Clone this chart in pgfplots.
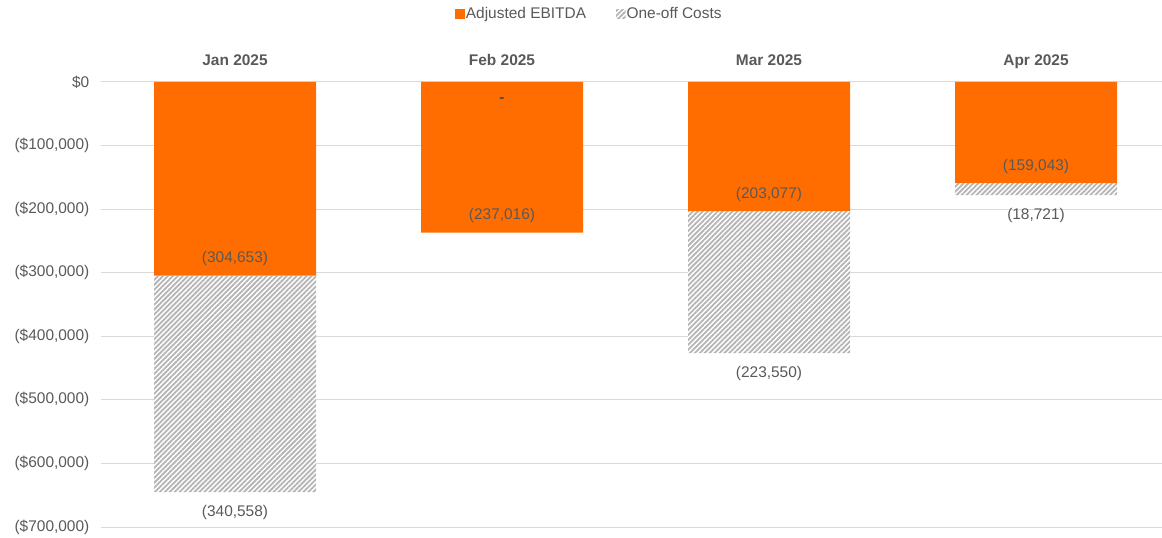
\documentclass[border=0pt]{standalone}
\usepackage{pgfplots}
\pgfplotsset{compat=1.18}
\usepackage{pgfplotstable}
\usepackage{fontspec}
\setmainfont{Liberation Sans}
\usetikzlibrary{patterns.meta}
\definecolor{ebitda}{HTML}{FF6D00}
\definecolor{txt}{HTML}{595959}
\definecolor{gridc}{HTML}{D9D9D9}
\definecolor{hatch}{HTML}{B4B4B4}
\pgfplotstableread{
x y lab
0 -304653 {(304,653)}
1 -237016 {(237,016)}
2 -203077 {(203,077)}
3 -159043 {(159,043)}
}\ebitdatab
\pgfplotstableread{
x y lab
0 -340558 {(340,558)}
1 0 {}
2 -223550 {(223,550)}
3 -18721 {(18,721)}
}\oneofftab
\begin{document}
\begin{tikzpicture}
\begin{axis}[
  scale only axis,
  width=1060bp, height=445bp,
  xmin=-0.5, xmax=3.47,
  ymin=-700000, ymax=0,
  ybar stacked,
  bar width=162bp,
  axis line style={draw=none},
  tick style={draw=none},
  major tick length=0pt,
  ymajorgrids,
  grid style={gridc, line width=1bp},
  scaled y ticks=false,
  ytick={-700000,-600000,-500000,-400000,-300000,-200000,-100000,0},
  yticklabels={{(\$700,000)},{(\$600,000)},{(\$500,000)},{(\$400,000)},{(\$300,000)},{(\$200,000)},{(\$100,000)},{\$0}},
  yticklabel style={font=\fontsize{15.5}{18}\selectfont, text=txt, inner sep=0pt, xshift=-12bp},
  xtick={0,1,2,3},
  xticklabels={Jan 2025,Feb 2025,Mar 2025,Apr 2025},
  xticklabel pos=upper,
  xticklabel style={font=\fontsize{15.5}{18}\selectfont\bfseries, text=txt, anchor=base, inner sep=0pt, yshift=16bp},
  legend columns=2,
  legend entries={Adjusted EBITDA,,One-off Costs},
  legend style={draw=none, fill=none, at={(0.4599,1.1528)}, anchor=center,
    font=\fontsize{15.5}{18}\selectfont, text=txt,
    /tikz/every even column/.append style={column sep=29bp},
    nodes={inner sep=1bp}},
  legend image code/.code={\draw[#1,draw=none] (0bp,-4.5bp) rectangle (9.5bp,5bp);},
  point meta=explicit symbolic,
  every node near coord/.style={font=\fontsize{15.5}{18}\selectfont, text=txt, inner sep=0pt},
  after end axis/.append code={
    \node[font=\fontsize{15.5}{18}\selectfont\bfseries, text=black!70, inner sep=0pt] at (axis cs:1,-28000) {-};
  },
]
% Adjusted EBITDA bars
\addplot[fill=ebitda, draw=none]
  table[x=x, y=y]{\ebitdatab};
% near-zero carrier for the EBITDA labels (sits at the end of the EBITDA segment)
\addplot[draw=none, fill=none, nodes near coords,
  every node near coord/.append style={anchor=base, yshift=13bp}]
  table[x=x, y expr=-1, meta=lab]{\ebitdatab};
% One-off costs bars
\addplot[fill=white, draw=none, postaction={pattern={Lines[angle=45,distance=3.5bp,line width=1.8bp]}, pattern color=hatch}]
  table[x=x, y=y]{\oneofftab};
% near-zero carrier for the one-off labels (sits at the end of the stack)
\addplot[draw=none, fill=none, nodes near coords,
  every node near coord/.append style={anchor=base, yshift=-24.5bp}]
  table[x=x, y expr=-1, meta=lab]{\oneofftab};
\end{axis}
\pgfresetboundingbox
\path[use as bounding box] (-101.5bp,-11bp) rectangle (1060.5bp,527bp);
\end{tikzpicture}
\end{document}
